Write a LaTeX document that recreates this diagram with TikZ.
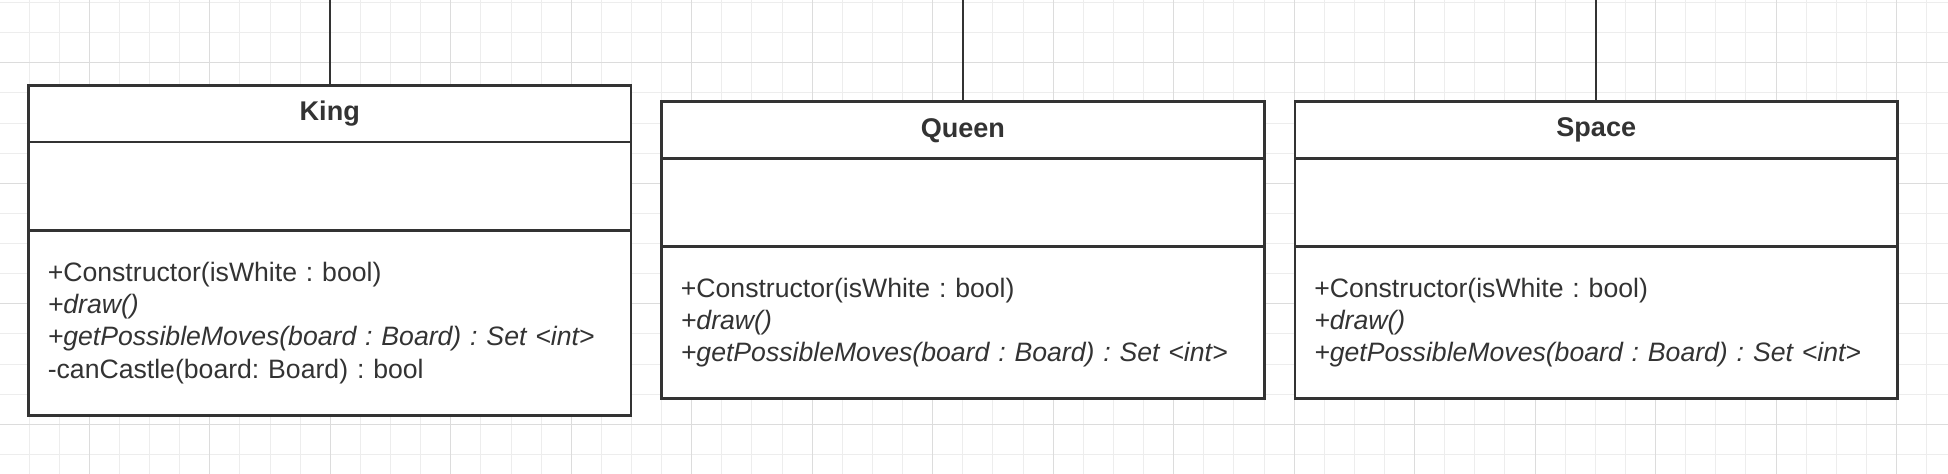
\documentclass[tikz,border=0pt]{standalone}
\usepackage{fontspec}
\setmainfont{Liberation Sans}
\usepackage{tikz}
\usetikzlibrary{positioning}
\definecolor{umlline}{HTML}{333333}
\definecolor{gridminor}{HTML}{EDEDED}
\definecolor{gridmajor}{HTML}{DCDCDC}

\tikzset{
  compartment/.style={draw=umlline, line width=1.6pt, fill=white,
    minimum width=12.05cm, outer sep=0pt, inner sep=0pt, text=umlline,
    font=\fontsize{15.15}{18.4}\selectfont\frenchspacing},
  classname/.style={compartment, minimum height=1.134cm,
    font=\fontsize{15.4}{18.4}\selectfont\bfseries},
  attrbox/.style={compartment, minimum height=1.766cm},
  opsbox/.style={compartment, align=left, text width=11.278cm, inner xsep=0.386cm},
  link/.style={draw=umlline, line width=1.1pt}
}

\begin{document}
\begin{tikzpicture}
\useasboundingbox (0,0) rectangle (38.96,9.48);
% background grid
\foreach \k in {0,...,63}
  \draw[gridminor, line width=0.55pt] ({0.5812+0.6024*\k},0) -- ++(0,9.48);
\foreach \k in {0,...,15}
  \draw[gridminor, line width=0.55pt] (0,{9.428-0.6024*\k}) -- ++(38.96,0);
\foreach \k in {0,...,15}
  \draw[gridmajor, line width=0.6pt] ({1.786+2.4096*\k},0) -- ++(0,9.48);
\foreach \k in {0,...,3}
  \draw[gridmajor, line width=0.6pt] (0,{8.224-2.4096*\k}) -- ++(38.96,0);

% King
\node[classname] (king) at (6.595,7.207) {King};
\node[attrbox, below=0pt of king] (king-attr) {};
\node[opsbox, minimum height=3.70cm, below=0pt of king-attr] (king-ops)
  {+Constructor(isWhite : bool)\\
   \textit{+draw()}\\
   \textit{+getPossibleMoves(board : Board) : Set <int>}\\
   -canCastle(board: Board) : bool};

% Queen
\node[classname] (queen) at (19.257,6.875) {Queen};
\node[attrbox, below=0pt of queen] (queen-attr) {};
\node[opsbox, minimum height=3.026cm, below=0pt of queen-attr] (queen-ops)
  {+Constructor(isWhite : bool)\\
   \textit{+draw()}\\
   \textit{+getPossibleMoves(board : Board) : Set <int>}};

% Space
\node[classname] (space) at (31.925,6.875) {Space};
\node[attrbox, below=0pt of space] (space-attr) {};
\node[opsbox, minimum height=3.026cm, below=0pt of space-attr] (space-ops)
  {+Constructor(isWhite : bool)\\
   \textit{+draw()}\\
   \textit{+getPossibleMoves(board : Board) : Set <int>}};

% links to the parent class (off the top edge)
\coordinate (king-top) at (6.595,9.48);
\coordinate (queen-top) at (19.257,9.48);
\coordinate (space-top) at (31.925,9.48);
\draw[link] (king.north) -- (king-top);
\draw[link] (queen.north) -- (queen-top);
\draw[link] (space.north) -- (space-top);
\end{tikzpicture}
\end{document}
